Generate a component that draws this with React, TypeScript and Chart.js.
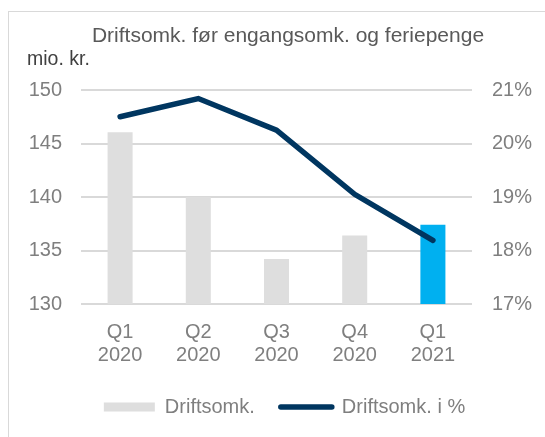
import React, { useEffect, useRef } from "react";
import { Chart, registerables } from "chart.js";

Chart.register(...registerables);

const categories: string[][] = [["Q1", "2020"], ["Q2", "2020"], ["Q3", "2020"], ["Q4", "2020"], ["Q1", "2021"]];
const costValues: number[] = [146.05, 140.0, 134.2, 136.4, 137.4];
const costPctValues: number[] = [20.5, 20.84, 20.25, 19.05, 18.19];
const barColors: string[] = ["#dedede", "#dedede", "#dedede", "#dedede", "#00b0f0"];
const titleText = "Driftsomk. før engangsomk. og feriepenge";
const unitText = "mio. kr.";
const barLabel = "Driftsomk.";
const lineLabel = "Driftsomk. i %";

const FONT = "'Liberation Sans', Arial, sans-serif";

export default function App() {
  const ref = useRef<HTMLCanvasElement | null>(null);
  useEffect(() => {
    if (!ref.current) return;
    const textPlugin = {
      id: "texts",
      afterDraw(chart: any) {
        const ctx = chart.ctx;
        ctx.save();
        ctx.textBaseline = "alphabetic";
        ctx.fillStyle = "#595959";
        ctx.font = `21px ${FONT}`;
        ctx.textAlign = "center";
        ctx.fillText(titleText, 279, 29.7);
        ctx.fillStyle = "#404040";
        ctx.font = `19.5px ${FONT}`;
        ctx.textAlign = "left";
        ctx.fillText(unitText, 18, 52.5);
        ctx.restore();
      },
    };
    const chart = new Chart(ref.current, {
      type: "bar",
      data: {
        labels: categories,
        datasets: [
          {
            type: "line",
            label: lineLabel,
            data: costPctValues,
            yAxisID: "y2",
            borderColor: "#003660",
            backgroundColor: "#003660",
            borderWidth: 5.5,
            pointRadius: 0,
            tension: 0,
            borderCapStyle: "round",
            borderJoinStyle: "miter",
            order: 0,
          } as any,
          {
            type: "bar",
            label: barLabel,
            data: costValues,
            yAxisID: "y",
            backgroundColor: barColors,
            barPercentage: 0.32,
            categoryPercentage: 1,
            order: 1,
          },
        ],
      },
      options: {
        responsive: false,
        animation: false,
        layout: { padding: { left: 15, top: 78, right: 0, bottom: 10 } },
        plugins: {
          title: { display: false },
          tooltip: { enabled: false },
          legend: {
            display: true,
            position: "bottom",
            labels: {
              usePointStyle: true,
              pointStyleWidth: 51,
              boxHeight: 9,
              padding: 26,
              color: "#7f7f7f",
              font: { family: FONT, size: 20 },
              generateLabels: () => [
                {
                  text: barLabel,
                  fillStyle: "#dedede",
                  strokeStyle: "#dedede",
                  lineWidth: 0,
                  pointStyle: "rect",
                  fontColor: "#7f7f7f",
                  datasetIndex: 1,
                  hidden: false,
                },
                {
                  text: lineLabel,
                  fillStyle: "#003660",
                  strokeStyle: "#003660",
                  lineWidth: 5.5,
                  lineCap: "round",
                  pointStyle: "line",
                  fontColor: "#7f7f7f",
                  datasetIndex: 0,
                  hidden: false,
                } as any,
              ],
            },
          },
        },
        scales: {
          x: {
            grid: { display: false, drawTicks: false },
            border: { display: false },
            ticks: {
              color: "#7f7f7f",
              font: { family: FONT, size: 20, lineHeight: 1.14 },
              padding: 17,
              maxRotation: 0,
            },
            afterFit: (s: any) => {
              s.height = 67;
            },
          },
          y: {
            position: "left",
            min: 130,
            max: 150,
            grid: { color: "#d9d9d9", lineWidth: 2, drawTicks: false },
            border: { display: false },
            ticks: {
              stepSize: 5,
              color: "#7f7f7f",
              font: { family: FONT, size: 20 },
              padding: 19,
            },
            afterFit: (s: any) => {
              s.width = 57;
            },
          },
          y2: {
            position: "right",
            min: 17,
            max: 21,
            grid: { display: false, drawTicks: false },
            border: { display: false },
            ticks: {
              stepSize: 1,
              color: "#7f7f7f",
              font: { family: FONT, size: 20 },
              padding: 20,
              callback: (v: any) => `${v}%`,
            },
            afterFit: (s: any) => {
              s.width = 73;
            },
          },
        },
      },
      plugins: [textPlugin],
    });
    return () => chart.destroy();
  }, []);
  return (
    <div
      style={{
        position: "absolute",
        left: 8,
        top: 11,
        width: 537,
        height: 426,
        boxSizing: "border-box",
        borderTop: "1px solid #d9d9d9",
        borderLeft: "1px solid #d9d9d9",
        background: "#fff",
      }}
    >
      <canvas ref={ref} width={536} height={425} style={{ display: "block", width: 536, height: 425 }} />
    </div>
  );
}
